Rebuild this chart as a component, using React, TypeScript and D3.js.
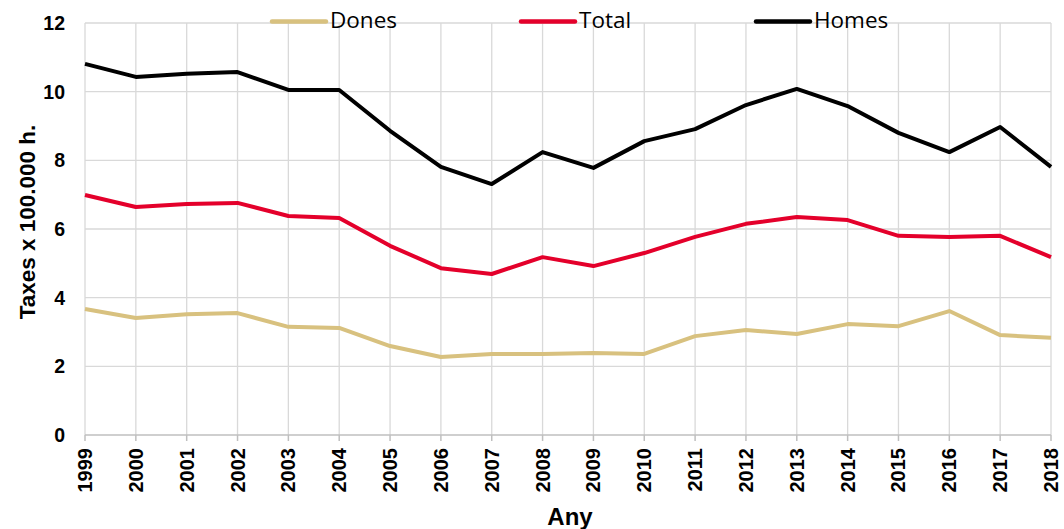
import React from "react";
import * as d3 from "d3";

const years = ["1999","2000","2001","2002","2003","2004","2005","2006","2007","2008","2009","2010","2011","2012","2013","2014","2015","2016","2017","2018"];
const homes = [10.81,10.43,10.52,10.57,10.05,10.05,8.86,7.81,7.31,8.24,7.78,8.56,8.91,9.61,10.08,9.58,8.80,8.24,8.97,7.81];
const total = [6.99,6.64,6.73,6.76,6.38,6.32,5.51,4.86,4.69,5.18,4.92,5.30,5.77,6.15,6.35,6.26,5.80,5.77,5.80,5.18];
const dones = [3.67,3.41,3.52,3.55,3.15,3.12,2.59,2.27,2.36,2.36,2.39,2.36,2.88,3.06,2.94,3.23,3.17,3.61,2.91,2.83];
const yTicks = [0,2,4,6,8,10,12];

const series = [
  { name: "Dones", values: dones, color: "#D8C17F", lx: 272 },
  { name: "Total", values: total, color: "#E4002B", lx: 521 },
  { name: "Homes", values: homes, color: "#000000", lx: 756 },
];

export default function App() {
  const W = 1064, H = 529;
  const x = d3.scalePoint<string>().domain(years).range([85, 1051]);
  const y = d3.scaleLinear().domain([0, 12]).range([435, 23]);
  const line = d3.line<number>().x((_, i) => x(years[i])!).y(d => y(d));
  const arial = "Liberation Sans, Arial, sans-serif";
  return (
    <svg width={W} height={H} style={{ position: "absolute", left: 0, top: 0 }}>
      <rect width={W} height={H} fill="#fff" />
      {yTicks.filter(t => t > 0).map(t => (
        <line key={"h"+t} x1={85} x2={1051} y1={y(t)} y2={y(t)} stroke="#d9d9d9" strokeWidth={1.3} />
      ))}
      {years.map(yr => (
        <line key={"v"+yr} x1={x(yr)} x2={x(yr)} y1={23} y2={435} stroke="#d9d9d9" strokeWidth={1.3} />
      ))}
      <line x1={85} x2={1051} y1={435} y2={435} stroke="#bfbfbf" strokeWidth={1.5} />
      {years.map(yr => (
        <line key={"t"+yr} x1={x(yr)} x2={x(yr)} y1={435} y2={441} stroke="#bfbfbf" strokeWidth={1.5} />
      ))}
      {yTicks.map(t => (
        <text key={"yl"+t} x={65} y={y(t)} dy="0.36em" textAnchor="end" fontFamily={arial} fontWeight="bold" fontSize={19.5}>{t}</text>
      ))}
      {years.map(yr => (
        <text key={"xl"+yr} transform={`translate(${x(yr)! + 7},${448}) rotate(-90)`} textAnchor="end" fontFamily={arial} fontWeight="bold" fontSize={20}>{yr}</text>
      ))}
      <text x={570} y={525} textAnchor="middle" fontFamily={arial} fontWeight="bold" fontSize={24}>Any</text>
      <text transform={`translate(35,222) rotate(-90)`} textAnchor="middle" fontFamily={arial} fontWeight="bold" fontSize={22.5}>Taxes x 100.000 h.</text>
      {series.map(s => (
        <path key={s.name} d={line(s.values)!} fill="none" stroke={s.color} strokeWidth={4} strokeLinejoin="round" />
      ))}
      {series.map(s => (
        <g key={"lg"+s.name}>
          <line x1={s.lx} x2={s.lx + 54} y1={21.5} y2={21.5} stroke={s.color} strokeWidth={4.5} strokeLinecap="round" />
          <text x={s.lx + 58} y={28} fontFamily="Open Sans, sans-serif" fontSize={22.5}>{s.name}</text>
        </g>
      ))}
    </svg>
  );
}
